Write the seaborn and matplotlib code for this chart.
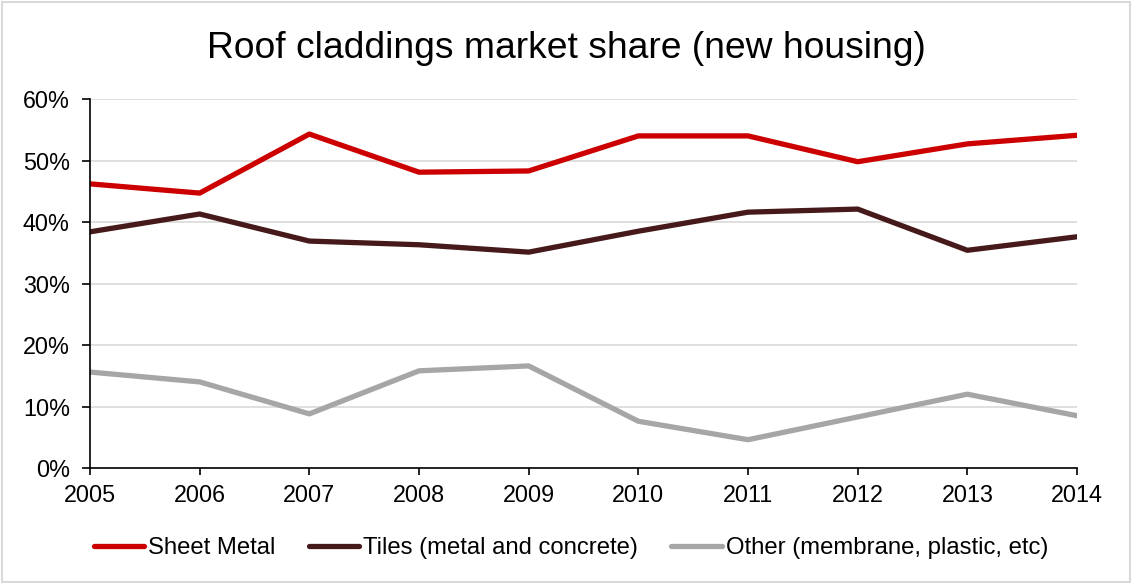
import pandas as pd
import numpy as np
import matplotlib.pyplot as plt
import seaborn as sns
from matplotlib.ticker import PercentFormatter
from matplotlib.patches import Rectangle

# Données
years = [2005, 2006, 2007, 2008, 2009, 2010, 2011, 2012, 2013, 2014]
sheet_metal = [46.2, 44.7, 54.3, 48.1, 48.3, 54.0, 54.0, 49.8, 52.7, 54.1]
tiles = [38.4, 41.3, 36.9, 36.3, 35.1, 38.5, 41.6, 42.1, 35.4, 37.6]
other = [15.6, 14.0, 8.8, 15.8, 16.6, 7.6, 4.6, 8.3, 12.0, 8.5]
series_names = ['Sheet Metal', 'Tiles (metal and concrete)', 'Other (membrane, plastic, etc)']
colors = ['#CC0000', '#461A1A', '#A6A6A6']

df = pd.DataFrame({
    'Year': years * 3,
    'Share': sheet_metal + tiles + other,
    'Series': [series_names[0]] * 10 + [series_names[1]] * 10 + [series_names[2]] * 10,
})

sns.set_style('white')
plt.rcParams['font.family'] = ['Liberation Sans', 'DejaVu Sans']
plt.rcParams['text.color'] = 'black'

fig, ax = plt.subplots(figsize=(11.32, 5.84), dpi=100)
fig.subplots_adjust(left=90 / 1132, right=1077 / 1132, top=1 - 99 / 584, bottom=1 - 468 / 584)

sns.lineplot(data=df, x='Year', y='Share', hue='Series', palette=colors,
             linewidth=3.8, solid_capstyle='round', ax=ax, legend=True)

ax.set_xlim(2005, 2014)
ax.set_ylim(0, 60)
ax.set_xticks(years)
ax.set_yticks(np.arange(0, 61, 10))
ax.yaxis.set_major_formatter(PercentFormatter(decimals=0))
ax.grid(axis='y', color='#D9D9D9', linewidth=1.2)
ax.set_axisbelow(True)
ax.set_xlabel('')
ax.set_ylabel('')

for side in ['top', 'right']:
    ax.spines[side].set_visible(False)
for side in ['left', 'bottom']:
    ax.spines[side].set_color('black')
    ax.spines[side].set_linewidth(1.2)

ax.xaxis.set_ticks_position('bottom')
ax.yaxis.set_ticks_position('left')
ax.tick_params(axis='both', which='both', direction='out', width=1.2,
               colors='black', labelsize=16.8)
ax.tick_params(axis='x', length=5, pad=6.5)
ax.tick_params(axis='y', length=5.5, pad=9)

fig.text(0.5, 1 - 58 / 584, 'Roof claddings market share (new housing)',
         fontsize=26.8, ha='center', va='baseline', color='black')

handles, labels = ax.get_legend_handles_labels()
for h in handles:
    h.set_linewidth(3.8)
    h.set_solid_capstyle('round')
ax.legend(handles, labels, loc='center', bbox_to_anchor=(571 / 1132, (584 - 548) / 584),
          bbox_transform=fig.transFigure, ncol=3, frameon=False, fontsize=17.2,
          handlelength=2.1, handletextpad=0.17, columnspacing=1.4, borderpad=0)

fig.patches.append(Rectangle((0.002, 0.003), 0.996, 0.994, transform=fig.transFigure,
                             fill=False, edgecolor='#D9D9D9', linewidth=1.5))

plt.savefig('out.png', dpi=100)
plt.close()
